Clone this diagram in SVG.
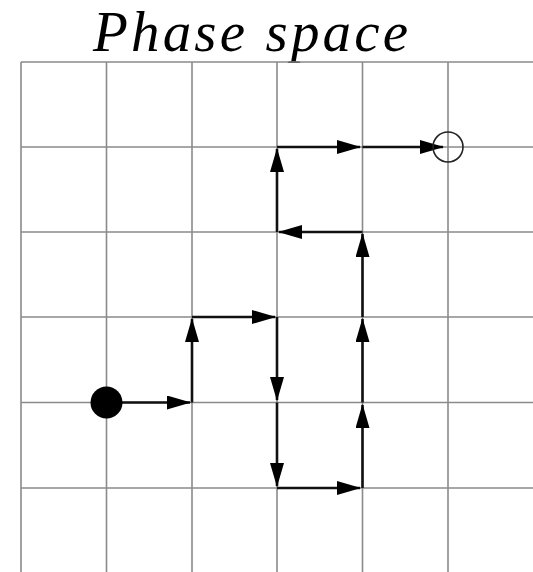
<svg xmlns="http://www.w3.org/2000/svg" width="533" height="572" viewBox="0 0 533 572">
<style>
.grid line{stroke:#8a8a8a;stroke-width:1.6}
.conn line{stroke:#111;stroke-width:2.6;marker-end:url(#ah)}
.title{font-family:"Liberation Serif","Times New Roman",serif;font-style:italic;font-size:57px;fill:#000}
</style>
<defs>
<marker id="ah" markerUnits="userSpaceOnUse" markerWidth="24" markerHeight="14" viewBox="0 0 24 14" refX="23" refY="7" orient="auto">
<path d="M0,0 L24,7 L0,14 Z" fill="#000"/>
</marker>
</defs>
<rect width="533" height="572" fill="#fff"/>
<text class="title" x="93" y="51" textLength="315" lengthAdjust="spacing">Phase space</text>
<g class="grid" id="grid">
<line x1="21" y1="62" x2="21" y2="572"/>
<line x1="106.5" y1="62" x2="106.5" y2="572"/>
<line x1="192" y1="62" x2="192" y2="572"/>
<line x1="277" y1="62" x2="277" y2="572"/>
<line x1="362.5" y1="62" x2="362.5" y2="572"/>
<line x1="448" y1="62" x2="448" y2="572"/>
<line x1="21" y1="62" x2="533" y2="62"/>
<line x1="21" y1="147" x2="533" y2="147"/>
<line x1="21" y1="232" x2="533" y2="232"/>
<line x1="21" y1="317" x2="533" y2="317"/>
<line x1="21" y1="402.5" x2="533" y2="402.5"/>
<line x1="21" y1="488" x2="533" y2="488"/>
</g>
<g class="conn" id="connectors">
<line x1="106.5" y1="402.5" x2="190" y2="402.5"/>
<line x1="192" y1="402.5" x2="192" y2="319"/>
<line x1="192" y1="317" x2="275" y2="317"/>
<line x1="277" y1="317" x2="277" y2="400"/>
<line x1="277" y1="402.5" x2="277" y2="486"/>
<line x1="277" y1="488" x2="360" y2="488"/>
<line x1="362.5" y1="488" x2="362.5" y2="405"/>
<line x1="362.5" y1="402.5" x2="362.5" y2="319"/>
<line x1="362.5" y1="317" x2="362.5" y2="234"/>
<line x1="362.5" y1="232" x2="279" y2="232"/>
<line x1="277" y1="232" x2="277" y2="149"/>
<line x1="277" y1="147" x2="360" y2="147"/>
<line x1="362.5" y1="147" x2="443" y2="147"/>
</g>
<g id="start">
<circle cx="106.5" cy="402.5" r="16" fill="#000"/>
</g>
<g id="end">
<circle cx="448" cy="147" r="15" fill="none" stroke="#222" stroke-width="1.6"/>
</g>
</svg>
